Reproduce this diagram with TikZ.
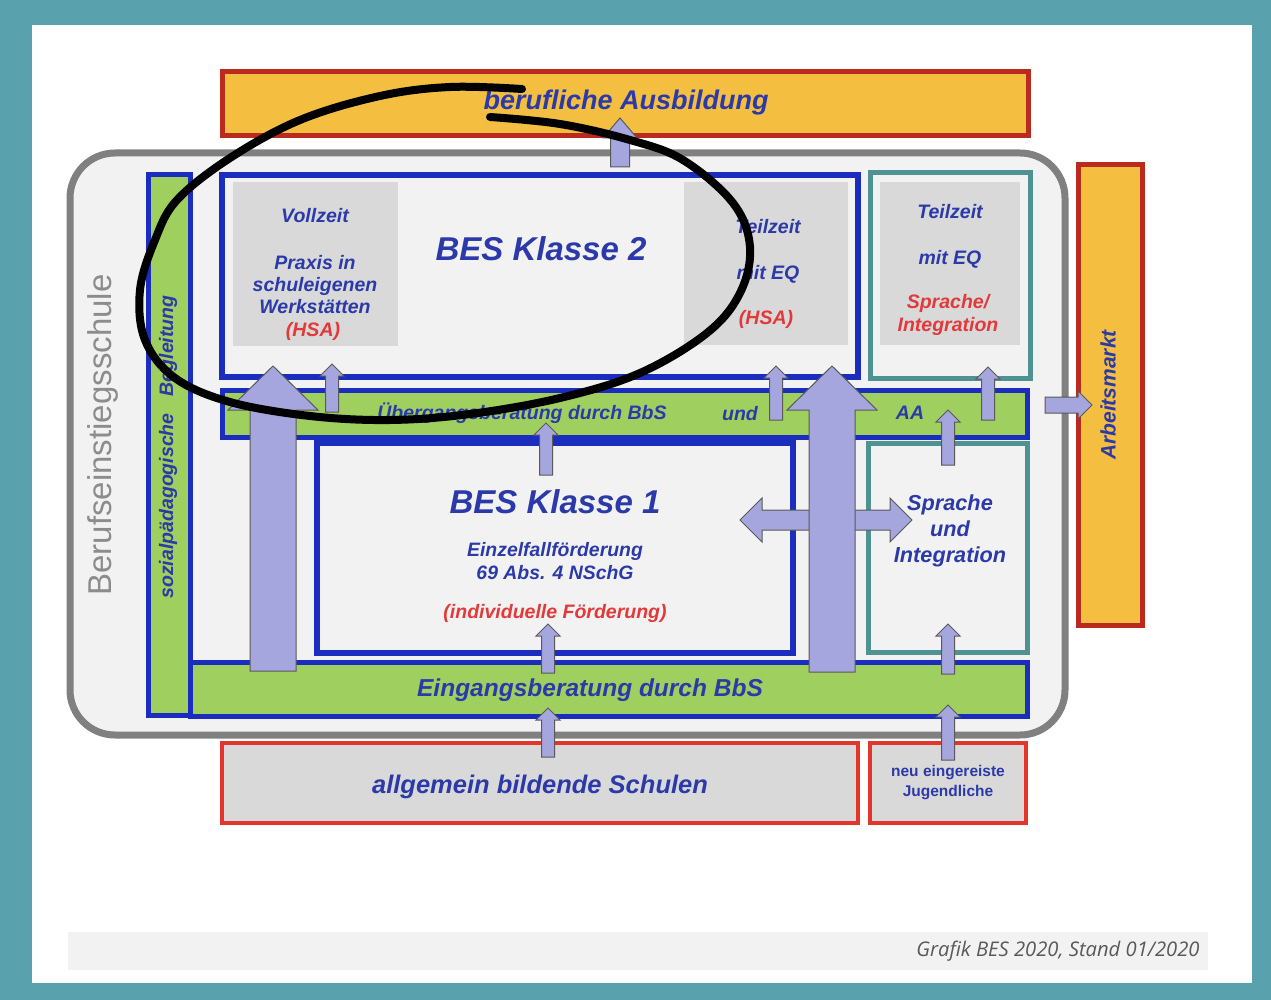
\documentclass[tikz,border=0pt]{standalone}
\usepackage{fontspec}
\setmainfont{Liberation Sans}
\newfontfamily\footfont{Open Sans}
\usetikzlibrary{calc}

\definecolor{tealbg}{HTML}{5AA1AE}
\definecolor{besblue}{HTML}{1A2DBE}
\definecolor{txtblue}{HTML}{2B3AA8}
\definecolor{txtred}{HTML}{E2393A}
\definecolor{bargreen}{HTML}{9FCF5F}
\definecolor{barorange}{HTML}{F4BF40}
\definecolor{darkred}{HTML}{BB2A1E}
\definecolor{boxred}{HTML}{E2352C}
\definecolor{tealline}{HTML}{4F9292}
\definecolor{lightgray}{HTML}{F2F2F2}
\definecolor{boxgray}{HTML}{D9D9D9}
\definecolor{lavender}{HTML}{A6A6DF}
\definecolor{namegray}{HTML}{8C8C8C}

\newcommand{\fsz}[2]{\fontsize{#1}{#2}\selectfont}
%% block arrow: from, to, half shaft, half head, head length
\newcommand{\blockarrow}[5]{%
  \coordinate (ba-h) at ($(#2)!#5!(#1)$);
  \draw[arrowbody] ($(#1)!#3!90:(#2)$) -- ($(ba-h)!#3!90:(#2)$)
    -- ($(ba-h)!#4!90:(#2)$) -- (#2) -- ($(ba-h)!#4!-90:(#2)$)
    -- ($(ba-h)!#3!-90:(#2)$) -- ($(#1)!#3!-90:(#2)$) -- cycle;
}

\tikzset{
  box/.style={inner sep=0pt, line width=#1},
  box/.default=5pt,
  greenbar/.style={box, draw=besblue, fill=bargreen},
  besbox/.style={box=6pt, draw=besblue, fill=lightgray},
  tealbox/.style={box, draw=tealline, fill=lightgray},
  orangebar/.style={box, draw=darkred, fill=barorange},
  redbox/.style={box=4pt, draw=boxred, fill=boxgray},
  graybox/.style={inner sep=0pt, fill=boxgray},
  lbl/.style={text=txtblue, align=center, inner sep=0pt,
    font=\fsz{19.5}{22}\bfseries\itshape},
  redlbl/.style={lbl, text=txtred},
  biglbl/.style={lbl, font=\fsz{33}{38}\bfseries\itshape},
  arrowbody/.style={draw=black!65, line width=1pt, fill=lavender, line join=miter},
}

\begin{document}
\begin{tikzpicture}[x=1pt,y=-1pt]
  %% frame
  \fill[tealbg] (0,0) rectangle (1271,1000);
  \fill[white] (32,25) rectangle (1252,983);
  \fill[lightgray] (68,932) rectangle (1208,970);
  \node[anchor=east, text=black!65, font=\footfont\itshape\fsz{20.2}{23}] (grafik) at (1203,951)
    {Grafik BES 2020, Stand 01/2020};

  %% outer frame Berufseinstiegsschule
  \node[box=7pt, draw=gray, fill=lightgray, rounded corners=45pt,
    minimum width=995pt, minimum height=582pt] (bes) at (567.5,444) {};
  \node[rotate=90, text=namegray, font=\fsz{33}{38}] (besname) at (103,435) {Berufseinstiegsschule};

  %% bars
  \node[orangebar, minimum width=806pt, minimum height=64pt] (ausb) at (625,104) {};
  \node[lbl, font=\fsz{27}{30}\bfseries\itshape] (ausbt) at (626,103) {berufliche Ausbildung};
  \node[orangebar, minimum width=64pt, minimum height=460pt] (arbeit) at (1110,395) {};
  \node[lbl, rotate=90, font=\fsz{21}{24}\bfseries\itshape] (arbeitt) at (1108,395) {Arbeitsmarkt};
  \node[greenbar, minimum width=42pt, minimum height=540pt] (sozial) at (169,445) {};
  \node[lbl, rotate=90] (sozialt) at (168,447) {sozialpädagogische\hspace{0.6em} Begleitung};
  \node[greenbar, minimum width=805pt, minimum height=47pt] (ueber) at (624.5,413.5) {};
  \node[lbl] (uebert) at (522,413) {Übergangsberatung durch BbS};
  \node[lbl] (und) at (740,414) {und};
  \node[lbl] (aa) at (910,413) {AA};
  \node[greenbar, minimum width=837pt, minimum height=54pt] (eing) at (608.5,689) {};
  \node[lbl, font=\fsz{24.5}{28}\bfseries\itshape] (eingt) at (590,690) {Eingangsberatung durch BbS};

  %% BES Klasse 2
  \node[besbox, minimum width=636pt, minimum height=202pt] (bes2) at (540,276) {};
  \node[graybox, minimum width=165pt, minimum height=164pt] (voll) at (315.5,264) {};
  \node[graybox, minimum width=164pt, minimum height=163pt] (teil) at (766,263.5) {};
  \node[biglbl] (bes2t) at (541,249) {BES Klasse 2};
  \node[lbl] (vollt) at (315,216) {Vollzeit};
  \node[lbl] (praxis) at (315,285) {Praxis in\\schuleigenen\\Werkstätten};
  \node[redlbl] (hsa1) at (313,331) {(HSA)};
  \node[lbl] (teilt) at (768,227) {Teilzeit};
  \node[lbl] (eq1) at (768,274) {mit EQ};
  \node[redlbl] (hsa2) at (766,319) {(HSA)};

  %% Teilzeit mit EQ, Sprache
  \node[tealbox, minimum width=160pt, minimum height=205pt] (teq) at (950,275.5) {};
  \node[graybox, minimum width=140pt, minimum height=163pt] (teqin) at (950,263.5) {};
  \node[lbl] (teilt2) at (950,212) {Teilzeit};
  \node[lbl] (eq2) at (950,259) {mit EQ};
  \node[redlbl, font=\fsz{19.5}{23}\bfseries\itshape] (spr2) at (948,315) {Sprache/\\Integration};

  %% BES Klasse 1
  \node[besbox, minimum width=476pt, minimum height=210pt] (bes1) at (555,548) {};
  \node[biglbl] (bes1t) at (555,502) {BES Klasse 1};
  \node[lbl, font=\fsz{19.4}{23}\bfseries\itshape] (einz) at (555,561) {Einzelfallförderung\\69 Abs. 4 NSchG};
  \node[redlbl] (indiv) at (555,613) {(individuelle Förderung)};

  %% Sprache und Integration
  \node[tealbox, minimum width=159pt, minimum height=209pt] (spr) at (947.5,547.5) {};
  \node[lbl, font=\fsz{21.7}{26}\bfseries\itshape] (sprt) at (950,531) {Sprache\\und\\Integration};

  %% schools
  \node[redbox, minimum width=636pt, minimum height=80pt] (allg) at (540,783) {};
  \node[lbl, font=\fsz{25.5}{30}\bfseries\itshape] (allgt) at (540,787) {allgemein bildende Schulen};
  \node[redbox, minimum width=156pt, minimum height=80pt] (neu) at (948,783) {};
  \node[lbl, font=\fsz{15.5}{20}\bfseries] (neut) at (948,783) {neu eingereiste\\Jugendliche};

  %% arrows
  \coordinate (dm) at (826,520);
  \coordinate (dl) at (740,520);
  \coordinate (dr) at (912,520);
  \blockarrow{dm}{dl}{10pt}{22pt}{22pt}
  \blockarrow{dm}{dr}{10pt}{22pt}{22pt}
  \foreach \n/\x/\b/\t in {L/273/671/366, R/832/672/366}
  {
    \coordinate (s\n) at (\x,\b);
    \coordinate (t\n) at (\x,\t);
    \blockarrow{s\n}{t\n}{23pt}{45pt}{44pt}
  }
  \foreach \n/\x/\b/\t in {a/332/412/364, b/776/420/366, c/988/420/367,
    d/948/465/410, e/546/475/423, f/548/673/624, g/548/757/708,
    h/948/674/624, i/948/760/705}
  {
    \coordinate (s\n) at (\x,\b);
    \coordinate (t\n) at (\x,\t);
    \blockarrow{s\n}{t\n}{6.5pt}{12pt}{12pt}
  }
  \coordinate (sA) at (620,167);
  \coordinate (tA) at (620,118);
  \blockarrow{sA}{tA}{9.5pt}{17pt}{20pt}
  \coordinate (sM) at (1045,405);
  \coordinate (tM) at (1092,405);
  \blockarrow{sM}{tM}{8pt}{14pt}{14pt}

  %% hand drawn loop
  \draw[line width=8pt, line cap=round, line join=round] plot[smooth, tension=0.6] coordinates {
    (490,117) (560,124) (630,140) (683,160) (733,203) (750,247) (740,293) (707,333)
    (640,373) (560,398) (470,414) (390,420) (310,416) (230,402) (175,378) (145,340)
    (140,290) (155,240) (177,200) (230,158) (300,120) (380,96) (450,87) (522,89)};
\end{tikzpicture}
\end{document}
